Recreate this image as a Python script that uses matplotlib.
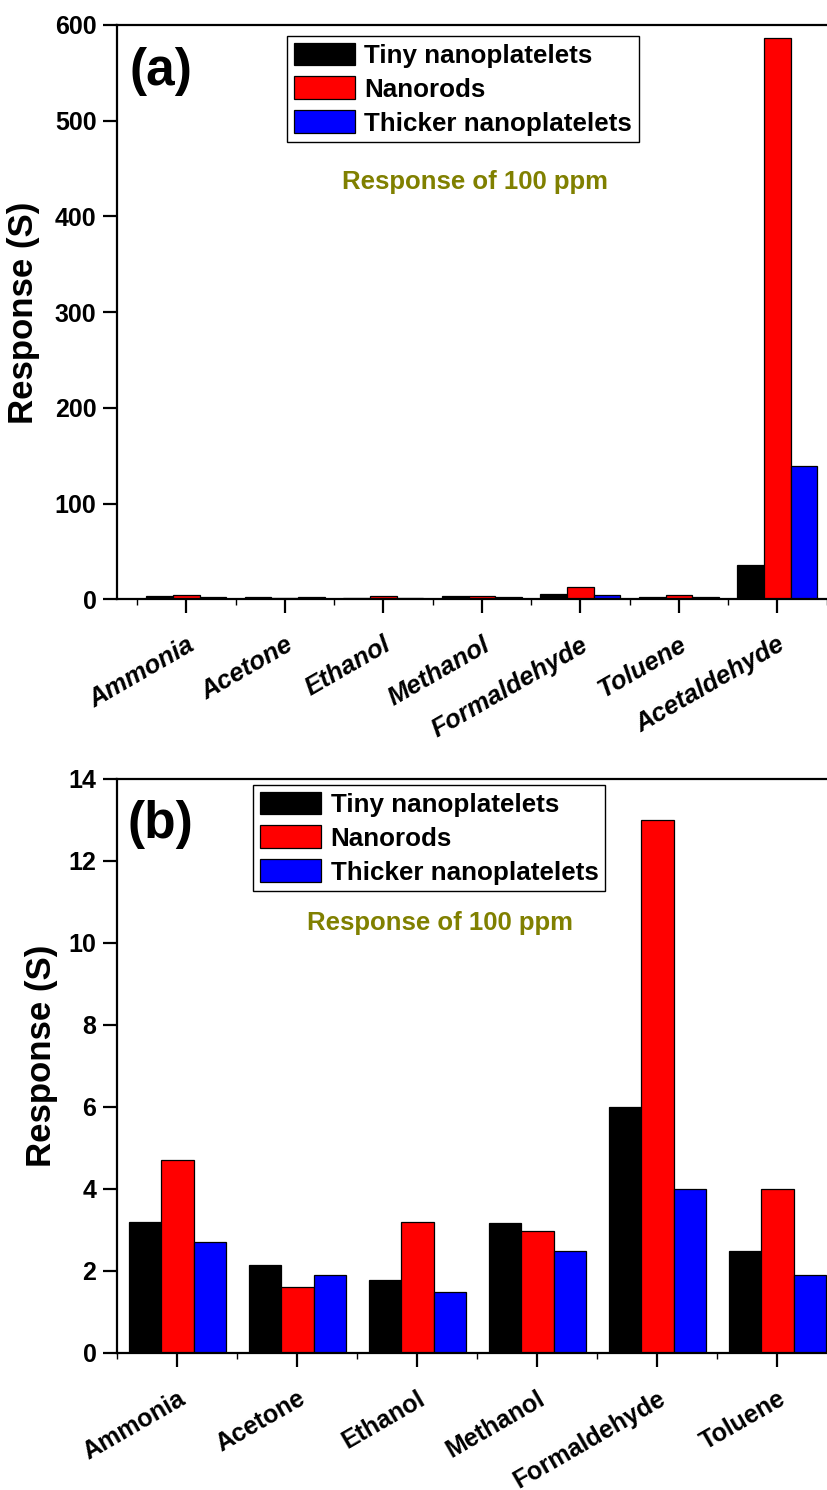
import matplotlib
matplotlib.use('Agg')
import matplotlib.pyplot as plt
import numpy as np

plt.rcParams['font.family'] = ['Liberation Sans', 'DejaVu Sans']
plt.rcParams['font.weight'] = 'bold'

# ---- data ----
series_names = ['Tiny nanoplatelets', 'Nanorods', 'Thicker nanoplatelets']
series_colors = ['#000000', '#FF0000', '#0000FF']

gases_a = ['Ammonia', 'Acetone', 'Ethanol', 'Methanol', 'Formaldehyde', 'Toluene', 'Acetaldehyde']
tiny_a = [3.2, 2.15, 1.78, 3.18, 6.0, 2.5, 36]
nanorods_a = [4.7, 1.6, 3.2, 2.97, 13.0, 4.0, 586]
thicker_a = [2.7, 1.9, 1.5, 2.5, 4.0, 1.9, 139]
yticks_a = [0, 100, 200, 300, 400, 500, 600]

gases_b = ['Ammonia', 'Acetone', 'Ethanol', 'Methanol', 'Formaldehyde', 'Toluene']
tiny_b = [3.2, 2.15, 1.78, 3.18, 6.0, 2.5]
nanorods_b = [4.7, 1.6, 3.2, 2.97, 13.0, 4.0]
thicker_b = [2.7, 1.9, 1.5, 2.5, 4.0, 1.9]
yticks_b = [0, 2, 4, 6, 8, 10, 12, 14]

W, H = 827, 1490
fig = plt.figure(figsize=(W / 100, H / 100), dpi=100)


def px_axes(left, top, right, bottom):
    return fig.add_axes([left / W, 1 - bottom / H, (right - left) / W, (bottom - top) / H])


def draw(ax, cats, data, yticks, xlim, italic, xfs, leg_anchor):
    n = len(cats)
    x = np.arange(n)
    w = 0.27
    for i, (vals, name, col) in enumerate(zip(data, series_names, series_colors)):
        ax.bar(x + (i - 1) * w, vals, width=w, color=col, edgecolor='black',
               linewidth=0.9, label=name, zorder=2)
    ax.set_xlim(*xlim)
    ax.set_ylim(yticks[0], yticks[-1])
    ax.set_yticks(yticks)
    ax.set_yticklabels([str(t) for t in yticks], fontsize=18, fontweight='bold')
    ax.set_xticks(x)
    ax.set_xticklabels(cats, fontsize=xfs, fontweight='bold',
                       fontstyle='italic' if italic else 'normal',
                       rotation=30, ha='right', rotation_mode='anchor')
    ax.set_xticks(np.arange(n + 1) - 0.5, minor=True)
    for s in ax.spines.values():
        s.set_linewidth(1.6)
    ax.tick_params(axis='both', which='major', direction='out', length=10, width=1.6)
    ax.tick_params(axis='x', which='major', pad=14)
    ax.tick_params(axis='y', which='major', pad=5)
    ax.tick_params(axis='x', which='minor', direction='out', length=4, width=1)
    leg = ax.legend(loc='upper left', bbox_to_anchor=leg_anchor, borderaxespad=0,
                    frameon=True, fancybox=False, edgecolor='black', framealpha=1,
                    prop=dict(weight='bold', size=18.7), handlelength=2.37,
                    handleheight=0.95, handletextpad=0.35, labelspacing=0.34,
                    borderpad=0.25)
    leg.get_frame().set_linewidth(1.0)


ax_a = px_axes(117.3, 25, 846.3, 599.3)
draw(ax_a, gases_a, [tiny_a, nanorods_a, thicker_a], yticks_a, (-0.7, 6.7), True, 18.5,
     (0.2328, 0.9808))

ax_b = px_axes(117.3, 779, 837.3, 1353)
draw(ax_b, gases_b, [tiny_b, nanorods_b, thicker_b], yticks_b, (-0.5, 5.5), False, 18,
     (0.189, 0.9895))

fig.text(130 / W, 1 - 85 / H, '(a)', fontsize=37, fontweight='bold', ha='left', va='baseline')
fig.text(128 / W, 1 - 838 / H, '(b)', fontsize=37, fontweight='bold', ha='left', va='baseline')

fig.text(474.5 / W, 1 - 182 / H, 'Response of 100 ppm', fontsize=18.5, fontweight='bold',
         color='#808000', ha='center', va='center')
fig.text(440.5 / W, 1 - 923 / H, 'Response of 100 ppm', fontsize=18.5, fontweight='bold',
         color='#808000', ha='center', va='center')

fig.text(24 / W, 1 - 313 / H, 'Response (S)', fontsize=25, fontweight='bold',
         rotation=90, ha='center', va='center')
fig.text(42 / W, 1 - 1056 / H, 'Response (S)', fontsize=25, fontweight='bold',
         rotation=90, ha='center', va='center')

fig.savefig('out.png', dpi=100)
